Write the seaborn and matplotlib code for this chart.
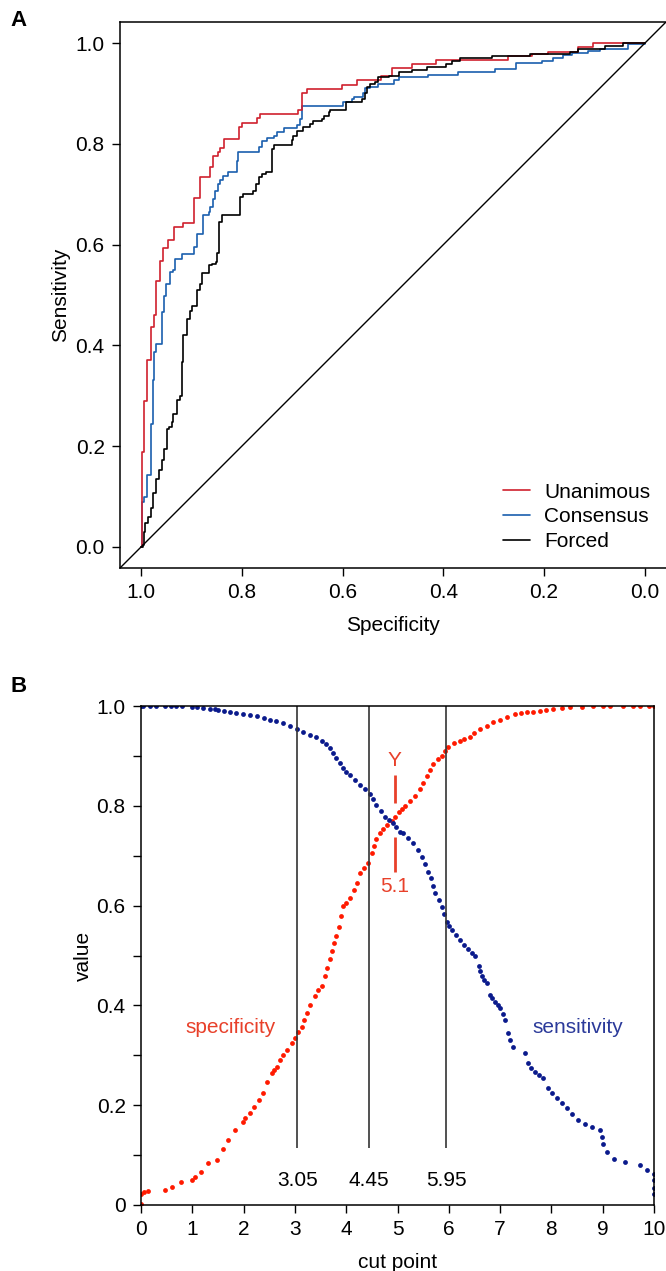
import pandas as pd
import seaborn as sns
import matplotlib.pyplot as plt
from matplotlib.lines import Line2D

# ---- panel A: ROC curves (specificity, sensitivity) corner points ----
unan_spec = [1.0, 0.999, 0.9935, 0.9875, 0.981, 0.974, 0.970, 0.962, 0.957, 0.947, 0.934, 0.917,
             0.896, 0.883, 0.863, 0.858, 0.848, 0.843, 0.835, 0.805, 0.800, 0.770, 0.765, 0.688,
             0.681, 0.671, 0.601, 0.572, 0.524, 0.501, 0.462, 0.415, 0.272, 0.225, 0.192, 0.133,
             0.103, 0.0]
unan_sens = [0.0, 0.188, 0.289, 0.370, 0.436, 0.461, 0.527, 0.568, 0.594, 0.610, 0.635, 0.642,
             0.693, 0.734, 0.754, 0.775, 0.783, 0.792, 0.810, 0.834, 0.842, 0.851, 0.860, 0.867,
             0.902, 0.908, 0.916, 0.926, 0.935, 0.950, 0.959, 0.967, 0.975, 0.979, 0.983, 0.993,
             1.0, 1.0]

cons_spec = [1.0, 0.999, 0.995, 0.989, 0.981, 0.977, 0.974, 0.970, 0.959, 0.954, 0.950, 0.942,
             0.937, 0.933, 0.919, 0.896, 0.889, 0.878, 0.866, 0.863, 0.857, 0.853, 0.847, 0.843,
             0.838, 0.827, 0.810, 0.807, 0.767, 0.761, 0.751, 0.736, 0.731, 0.716, 0.691, 0.685,
             0.681, 0.599, 0.582, 0.577, 0.559, 0.556, 0.546, 0.529, 0.499, 0.489, 0.430, 0.370,
             0.298, 0.255, 0.205, 0.182, 0.163, 0.145, 0.112, 0.089, 0.033, 0.0]
cons_sens = [0.0, 0.089, 0.099, 0.142, 0.244, 0.332, 0.387, 0.403, 0.466, 0.499, 0.521, 0.545,
             0.550, 0.572, 0.582, 0.595, 0.621, 0.659, 0.664, 0.674, 0.691, 0.707, 0.721, 0.729,
             0.737, 0.744, 0.767, 0.783, 0.793, 0.805, 0.812, 0.816, 0.823, 0.832, 0.838, 0.850,
             0.876, 0.883, 0.889, 0.894, 0.902, 0.910, 0.912, 0.919, 0.927, 0.932, 0.937, 0.943,
             0.949, 0.960, 0.964, 0.971, 0.977, 0.981, 0.985, 0.988, 0.998, 1.0]

forc_spec = [1.0, 0.997, 0.995, 0.992, 0.986, 0.980, 0.976, 0.970, 0.964, 0.959, 0.954, 0.949,
             0.944, 0.939, 0.936, 0.929, 0.923, 0.919, 0.916, 0.908, 0.904, 0.899, 0.889, 0.884,
             0.880, 0.866, 0.860, 0.851, 0.849, 0.845, 0.840, 0.804, 0.798, 0.777, 0.772, 0.767,
             0.761, 0.752, 0.741, 0.737, 0.701, 0.698, 0.691, 0.678, 0.665, 0.658, 0.641, 0.637,
             0.628, 0.625, 0.593, 0.562, 0.556, 0.552, 0.546, 0.536, 0.529, 0.507, 0.489, 0.463,
             0.433, 0.395, 0.382, 0.367, 0.304, 0.228, 0.149, 0.132, 0.079, 0.043, 0.0]
forc_sens = [0.0, 0.003, 0.029, 0.047, 0.059, 0.078, 0.106, 0.135, 0.153, 0.172, 0.195, 0.233,
             0.238, 0.248, 0.264, 0.291, 0.299, 0.367, 0.420, 0.453, 0.469, 0.479, 0.509, 0.522,
             0.543, 0.559, 0.562, 0.565, 0.583, 0.644, 0.659, 0.694, 0.701, 0.707, 0.721, 0.734,
             0.740, 0.744, 0.790, 0.797, 0.807, 0.816, 0.826, 0.833, 0.840, 0.846, 0.850, 0.856,
             0.863, 0.867, 0.883, 0.889, 0.902, 0.912, 0.919, 0.922, 0.932, 0.935, 0.942, 0.947,
             0.953, 0.959, 0.965, 0.970, 0.975, 0.979, 0.983, 0.988, 0.994, 1.0, 1.0]

# ---- panel B: specificity / sensitivity against cut point ----
spec_cut = [0.0, 0.0, 0.05, 0.14, 0.46, 0.60, 0.78, 0.99, 1.06, 1.17, 1.31, 1.48, 1.59, 1.70,
            1.84, 1.98, 2.03, 2.12, 2.20, 2.30, 2.38, 2.45, 2.55, 2.60, 2.65, 2.71, 2.77, 2.85,
            2.94, 3.00, 3.07, 3.13, 3.18, 3.23, 3.30, 3.39, 3.45, 3.52, 3.59, 3.63, 3.68, 3.72,
            3.76, 3.80, 3.85, 3.90, 3.94, 4.00, 4.07, 4.15, 4.21, 4.27, 4.35, 4.43, 4.50, 4.55,
            4.59, 4.65, 4.72, 4.80, 4.89, 4.95, 5.02, 5.08, 5.15, 5.24, 5.34, 5.44, 5.50, 5.57,
            5.63, 5.70, 5.78, 5.86, 5.92, 5.99, 6.10, 6.22, 6.30, 6.41, 6.50, 6.61, 6.74, 6.87,
            7.00, 7.13, 7.29, 7.40, 7.52, 7.65, 7.78, 7.90, 8.04, 8.20, 8.36, 8.60, 8.82, 9.00,
            9.14, 9.40, 9.60, 9.73, 9.90, 10.0]
spec_val = [0.003, 0.022, 0.027, 0.028, 0.031, 0.037, 0.047, 0.050, 0.057, 0.067, 0.085, 0.091,
            0.113, 0.131, 0.150, 0.167, 0.175, 0.185, 0.197, 0.210, 0.224, 0.247, 0.264, 0.270,
            0.277, 0.290, 0.300, 0.310, 0.324, 0.335, 0.347, 0.357, 0.370, 0.384, 0.400, 0.418,
            0.430, 0.438, 0.458, 0.475, 0.492, 0.510, 0.525, 0.540, 0.558, 0.580, 0.599, 0.605,
            0.615, 0.632, 0.645, 0.666, 0.675, 0.686, 0.706, 0.720, 0.733, 0.745, 0.753, 0.762,
            0.770, 0.777, 0.787, 0.793, 0.800, 0.810, 0.820, 0.833, 0.845, 0.860, 0.872, 0.884,
            0.893, 0.900, 0.910, 0.917, 0.925, 0.930, 0.933, 0.937, 0.945, 0.954, 0.960, 0.967,
            0.972, 0.977, 0.984, 0.985, 0.987, 0.988, 0.990, 0.992, 0.994, 0.996, 0.997, 0.998,
            0.999, 0.999, 1.0, 1.0, 1.0, 1.0, 1.0, 1.0]

sens_cut = [0.0, 0.04, 0.18, 0.30, 0.47, 0.58, 0.68, 0.79, 0.99, 1.10, 1.20, 1.35, 1.45, 1.51,
            1.62, 1.73, 1.86, 1.99, 2.13, 2.26, 2.39, 2.51, 2.64, 2.77, 2.90, 3.04, 3.16, 3.29,
            3.41, 3.52, 3.60, 3.68, 3.75, 3.81, 3.88, 3.94, 4.00, 4.07, 4.17, 4.27, 4.37, 4.46,
            4.52, 4.59, 4.68, 4.76, 4.84, 4.92, 4.98, 5.05, 5.11, 5.21, 5.31, 5.39, 5.47, 5.54,
            5.60, 5.65, 5.70, 5.73, 5.80, 5.86, 5.91, 5.96, 6.01, 6.06, 6.14, 6.22, 6.30, 6.38,
            6.45, 6.51, 6.58, 6.61, 6.64, 6.69, 6.74, 6.80, 6.85, 6.90, 6.95, 7.00, 7.05, 7.10,
            7.16, 7.20, 7.26, 7.49, 7.55, 7.60, 7.68, 7.76, 7.84, 7.94, 8.02, 8.10, 8.20, 8.30,
            8.40, 8.52, 8.65, 8.80, 8.94, 8.98, 9.01, 9.08, 9.22, 9.43, 9.72, 9.86, 10.0, 10.0,
            10.0, 10.0]
sens_val = [1.0, 1.0, 1.0, 1.0, 1.0, 1.0, 1.0, 1.0, 0.998, 0.997, 0.996, 0.994, 0.993, 0.992,
            0.990, 0.987, 0.986, 0.984, 0.982, 0.979, 0.976, 0.972, 0.969, 0.965, 0.960, 0.953,
            0.948, 0.942, 0.937, 0.930, 0.923, 0.915, 0.905, 0.895, 0.885, 0.875, 0.868, 0.862,
            0.852, 0.842, 0.833, 0.824, 0.813, 0.802, 0.790, 0.778, 0.772, 0.766, 0.758, 0.748,
            0.745, 0.735, 0.725, 0.712, 0.698, 0.683, 0.668, 0.655, 0.640, 0.625, 0.612, 0.598,
            0.583, 0.568, 0.560, 0.551, 0.541, 0.531, 0.522, 0.514, 0.506, 0.498, 0.478, 0.468,
            0.458, 0.451, 0.444, 0.421, 0.414, 0.407, 0.400, 0.394, 0.383, 0.371, 0.344, 0.330,
            0.317, 0.304, 0.284, 0.275, 0.267, 0.260, 0.254, 0.234, 0.224, 0.214, 0.204, 0.194,
            0.183, 0.170, 0.163, 0.157, 0.150, 0.137, 0.123, 0.107, 0.093, 0.087, 0.080, 0.070,
            0.063, 0.050, 0.035, 0.023]

cut_lines = [3.05, 4.45, 5.95]
youden_cut = 4.95

sns.set_theme(style='ticks')
plt.rcParams['font.family'] = ['Liberation Sans', 'DejaVu Sans']
plt.rcParams['font.size'] = 15
for k in ['text.color', 'axes.labelcolor', 'xtick.color', 'ytick.color', 'axes.edgecolor']:
    plt.rcParams[k] = 'black'
plt.rcParams['axes.linewidth'] = 1.1
plt.rcParams['xtick.major.size'] = 6
plt.rcParams['ytick.major.size'] = 6
plt.rcParams['xtick.major.width'] = 1.0
plt.rcParams['ytick.major.width'] = 1.0

FS = 15
fig = plt.figure(figsize=(6.66, 12.71), dpi=100)
W, H = 666, 1271

# ---------------- panel A ----------------
axA = fig.add_axes([120 / W, 1 - 568 / H, 546 / W, 546 / H])
curves = [('Consensus', cons_spec, cons_sens, '#1a5fae'),
          ('Unanimous', unan_spec, unan_sens, '#d0202e'),
          ('Forced', forc_spec, forc_sens, '#000000')]
for name, sp, se, col in curves:
    d = pd.DataFrame({'spec': sp, 'sens': se})
    sns.lineplot(data=d, x='spec', y='sens', ax=axA, sort=False, estimator=None,
                 color=col, lw=1.2, drawstyle='steps-post')
axA.axline((1, 0), (0, 1), color='black', lw=1.0)
axA.set_xlim(1.042, -0.042)
axA.set_ylim(-0.042, 1.042)
axA.set_xticks([1.0, 0.8, 0.6, 0.4, 0.2, 0.0])
axA.set_xticklabels(['1.0', '0.8', '0.6', '0.4', '0.2', '0.0'])
axA.set_yticks([0.0, 0.2, 0.4, 0.6, 0.8, 1.0])
axA.set_yticklabels(['0.0', '0.2', '0.4', '0.6', '0.8', '1.0'])
axA.spines['right'].set_visible(False)
axA.set_xlabel('Specificity', fontsize=FS, labelpad=10)
axA.set_ylabel('Sensitivity', fontsize=FS, labelpad=4)
axA.tick_params(labelsize=FS, pad=5)
handles = [Line2D([], [], color='#d0202e', lw=1.2), Line2D([], [], color='#1a5fae', lw=1.2),
           Line2D([], [], color='black', lw=1.2)]
axA.legend(handles, ['Unanimous', 'Consensus', 'Forced'], loc='lower right',
           bbox_to_anchor=(0.99, 0.012), frameon=False, fontsize=FS,
           handlelength=1.3, handletextpad=0.65, labelspacing=0.27, borderpad=0)
fig.text(10 / W, 1 - 20 / H, 'A', fontsize=16, fontweight='bold', va='center')

# ---------------- panel B ----------------
axB = fig.add_axes([141 / W, 1 - 1205 / H, 513 / W, 499 / H])
dspec = pd.DataFrame({'cut': spec_cut, 'value': spec_val})
dsens = pd.DataFrame({'cut': sens_cut, 'value': sens_val})
sns.scatterplot(data=dspec, x='cut', y='value', ax=axB, color='#ff1a00', s=12, linewidth=0)
sns.scatterplot(data=dsens, x='cut', y='value', ax=axB, color='#0a1a8c', s=12, linewidth=0)
axB.vlines(cut_lines, 0.115, 1.0, color='#333333', lw=1.2)
for c in cut_lines:
    axB.text(c, 0.05, f'{c:.2f}', ha='center', va='center', fontsize=FS)
axB.vlines([youden_cut, youden_cut], [0.806, 0.668], [0.862, 0.738], color='#e8402a', lw=2)
axB.text(youden_cut, 0.89, 'Y', ha='center', va='center', color='#e8402a', fontsize=FS)
axB.text(youden_cut, 0.638, '5.1', ha='center', va='center', color='#e8402a', fontsize=FS)
axB.text(1.75, 0.355, 'specificity', ha='center', va='center', color='#e8402a', fontsize=FS)
axB.text(8.52, 0.355, 'sensitivity', ha='center', va='center', color='#2b3a9a', fontsize=FS)
axB.set_xlim(0, 10)
axB.set_ylim(0, 1)
axB.set_xticks(range(11))
axB.set_yticks([i / 10 for i in range(11)])
axB.set_yticklabels(['0', '', '0.2', '', '0.4', '', '0.6', '', '0.8', '', '1.0'])
axB.set_xlabel('cut point', fontsize=FS, labelpad=10)
axB.set_ylabel('value', fontsize=FS, labelpad=3)
axB.tick_params(labelsize=FS, pad=5)
fig.text(10 / W, 1 - 687 / H, 'B', fontsize=16, fontweight='bold', va='center')

fig.savefig('out.png', dpi=100)
